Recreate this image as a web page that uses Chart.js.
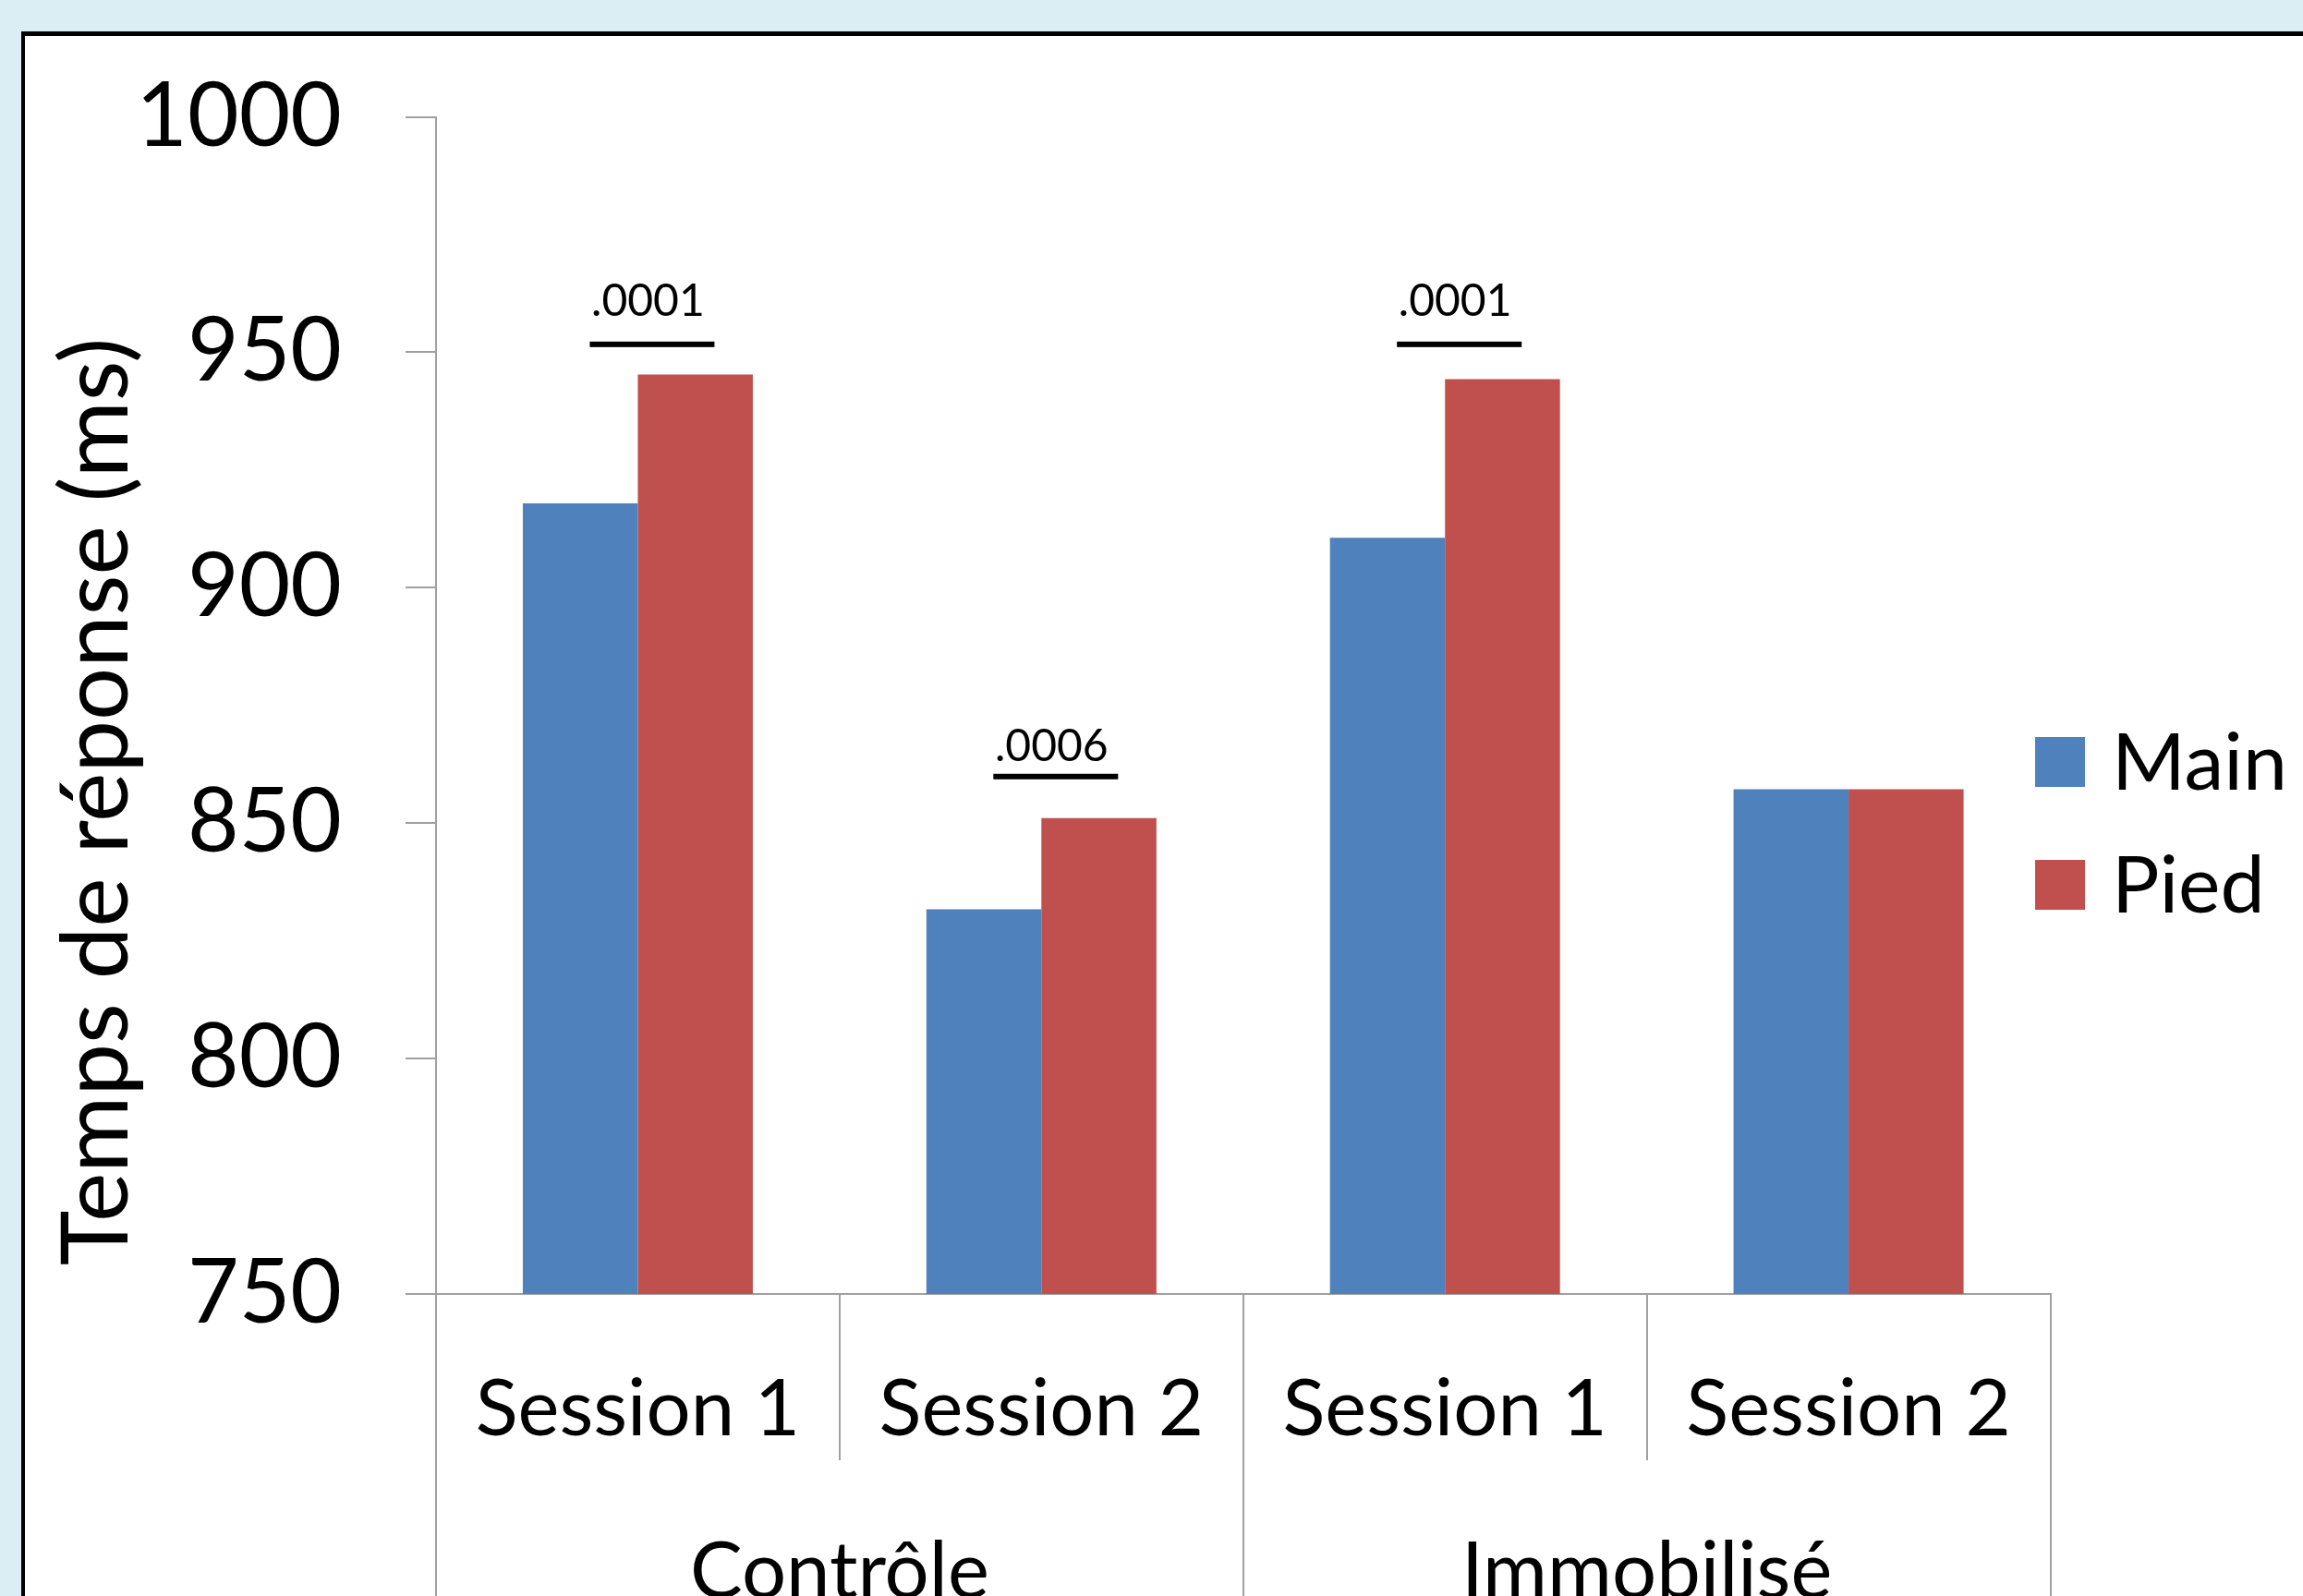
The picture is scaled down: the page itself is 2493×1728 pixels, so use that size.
<!DOCTYPE html>
<html>
<head>
<meta charset="utf-8">
<script src="https://cdn.jsdelivr.net/npm/chart.js@4.4.0/dist/chart.umd.min.js"></script>
<style>
  html, body { margin: 0; padding: 0; overflow: hidden; background: #DBEEF3; width: 2493px; height: 1728px; }
  #panel { position: absolute; left: 23px; top: 34px; width: 2600px; height: 2000px; background: #fff;
           border-left: 4px solid #000; border-top: 5px solid #000; }
  #wrap { position: absolute; left: 0; top: 0; width: 2493px; height: 2000px; }
</style>
</head>
<body>
<div id="panel"></div>
<div id="wrap"><canvas id="chart"></canvas></div>
<script>
// data
const sessions = ['Session 1', 'Session 2', 'Session 1', 'Session 2'];
const groups = ['Contrôle', 'Immobilisé'];
const seriesNames = ['Main', 'Pied'];
const mainValues = [917.9, 831.7, 910.6, 857.2];
const piedValues = [945.3, 851.1, 944.3, 857.2];
const yTicks = [750, 800, 850, 900, 950, 1000];
const yTitle = 'Temps de réponse (ms)';

// p-value brackets
const pLabels = ['.0001', '.0006', '.0001'];
const pCategories = [0, 1, 2];
const pLineValues = [951.7, 859.9, 951.7];
const pTextValues = [957.7, 863.1, 957.7];

const BLUE = '#4F81BD';
const RED = '#C0504D';
const AXIS = '#A0A0A0';
const FONT = 'Lato';

Chart.defaults.font.family = FONT;
Chart.defaults.color = '#000';

// y title, legend and p brackets drawn on top
const extras = {
    id: 'extras',
    afterDraw(chart) {
        const ctx = chart.ctx;
        const x = chart.scales.x;
        const y = chart.scales.y;

        ctx.save();
        ctx.fillStyle = '#000';
        ctx.translate(138, 868);
        ctx.rotate(-Math.PI / 2);
        ctx.font = '101px ' + FONT;
        ctx.textAlign = 'center';
        ctx.textBaseline = 'alphabetic';
        ctx.fillText(yTitle, 0, 0);
        ctx.restore();

        // legend
        ctx.save();
        ctx.font = '86px ' + FONT;
        ctx.textAlign = 'left';
        ctx.textBaseline = 'alphabetic';
        chart.data.datasets.forEach((ds, i) => {
            const cy = 825 + i * 133;
            ctx.fillStyle = ds.backgroundColor;
            ctx.fillRect(2203, cy - 27, 54, 54);
            ctx.fillStyle = '#000';
            ctx.fillText(ds.label, 2286, cy + 30);
        });
        ctx.restore();

        // brackets
        ctx.save();
        ctx.fillStyle = '#000';
        ctx.font = '48px ' + FONT;
        ctx.textAlign = 'center';
        ctx.textBaseline = 'alphabetic';
        pLabels.forEach((lab, i) => {
            const cx = x.getPixelForValue(pCategories[i]) + 15;
            const ly = y.getPixelForValue(pLineValues[i]);
            const ty = y.getPixelForValue(pTextValues[i]);
            ctx.fillRect(cx - 67, ly - 3, 135, 6);
            ctx.fillText(lab, cx - 4, ty);
        });
        ctx.restore();
    }
};

new Chart(document.getElementById('chart'), {
    type: 'bar',
    data: {
        labels: sessions,
        datasets: [
            { label: seriesNames[0], data: mainValues, backgroundColor: BLUE, borderWidth: 0 },
            { label: seriesNames[1], data: piedValues, backgroundColor: RED, borderWidth: 0 }
        ]
    },
    options: {
        responsive: true,
        maintainAspectRatio: false,
        animation: false,
        events: [],
        layout: { padding: { left: 0, top: 125, right: 273.5, bottom: 19 } },
        datasets: { bar: { categoryPercentage: 0.57, barPercentage: 1.0 } },
        plugins: {
            legend: { display: false },
            tooltip: { enabled: false }
        },
        scales: {
            y: {
                min: yTicks[0],
                max: yTicks[yTicks.length - 1],
                afterBuildTicks: s => { s.ticks = yTicks.map(v => ({ value: v })); },
                afterFit: s => { s.width = 472; },
                grid: { drawOnChartArea: false, tickLength: 33, color: AXIS, lineWidth: 2 },
                border: { display: true, color: AXIS, width: 2 },
                ticks: { font: { size: 96 }, padding: 69, color: '#000', callback: v => String(v) }
            },
            x: {
                weight: 0,
                afterFit: s => { s.height = 180; },
                grid: { offset: true, drawOnChartArea: false, tickLength: 180, color: AXIS, lineWidth: 2 },
                border: { display: true, color: AXIS, width: 2 },
                ticks: { font: { size: 85 }, padding: -105, color: '#000', maxRotation: 0, autoSkip: false }
            },
            x2: {
                type: 'category',
                position: 'bottom',
                weight: 1,
                labels: groups,
                offset: true,
                afterFit: s => { s.height = 400; },
                grid: { offset: true, drawOnChartArea: false, tickLength: 400, color: AXIS, lineWidth: 2 },
                border: { display: false },
                ticks: { font: { size: 85 }, padding: -329, color: '#000', maxRotation: 0, autoSkip: false }
            }
        }
    },
    plugins: [extras]
});
</script>
</body>
</html>
